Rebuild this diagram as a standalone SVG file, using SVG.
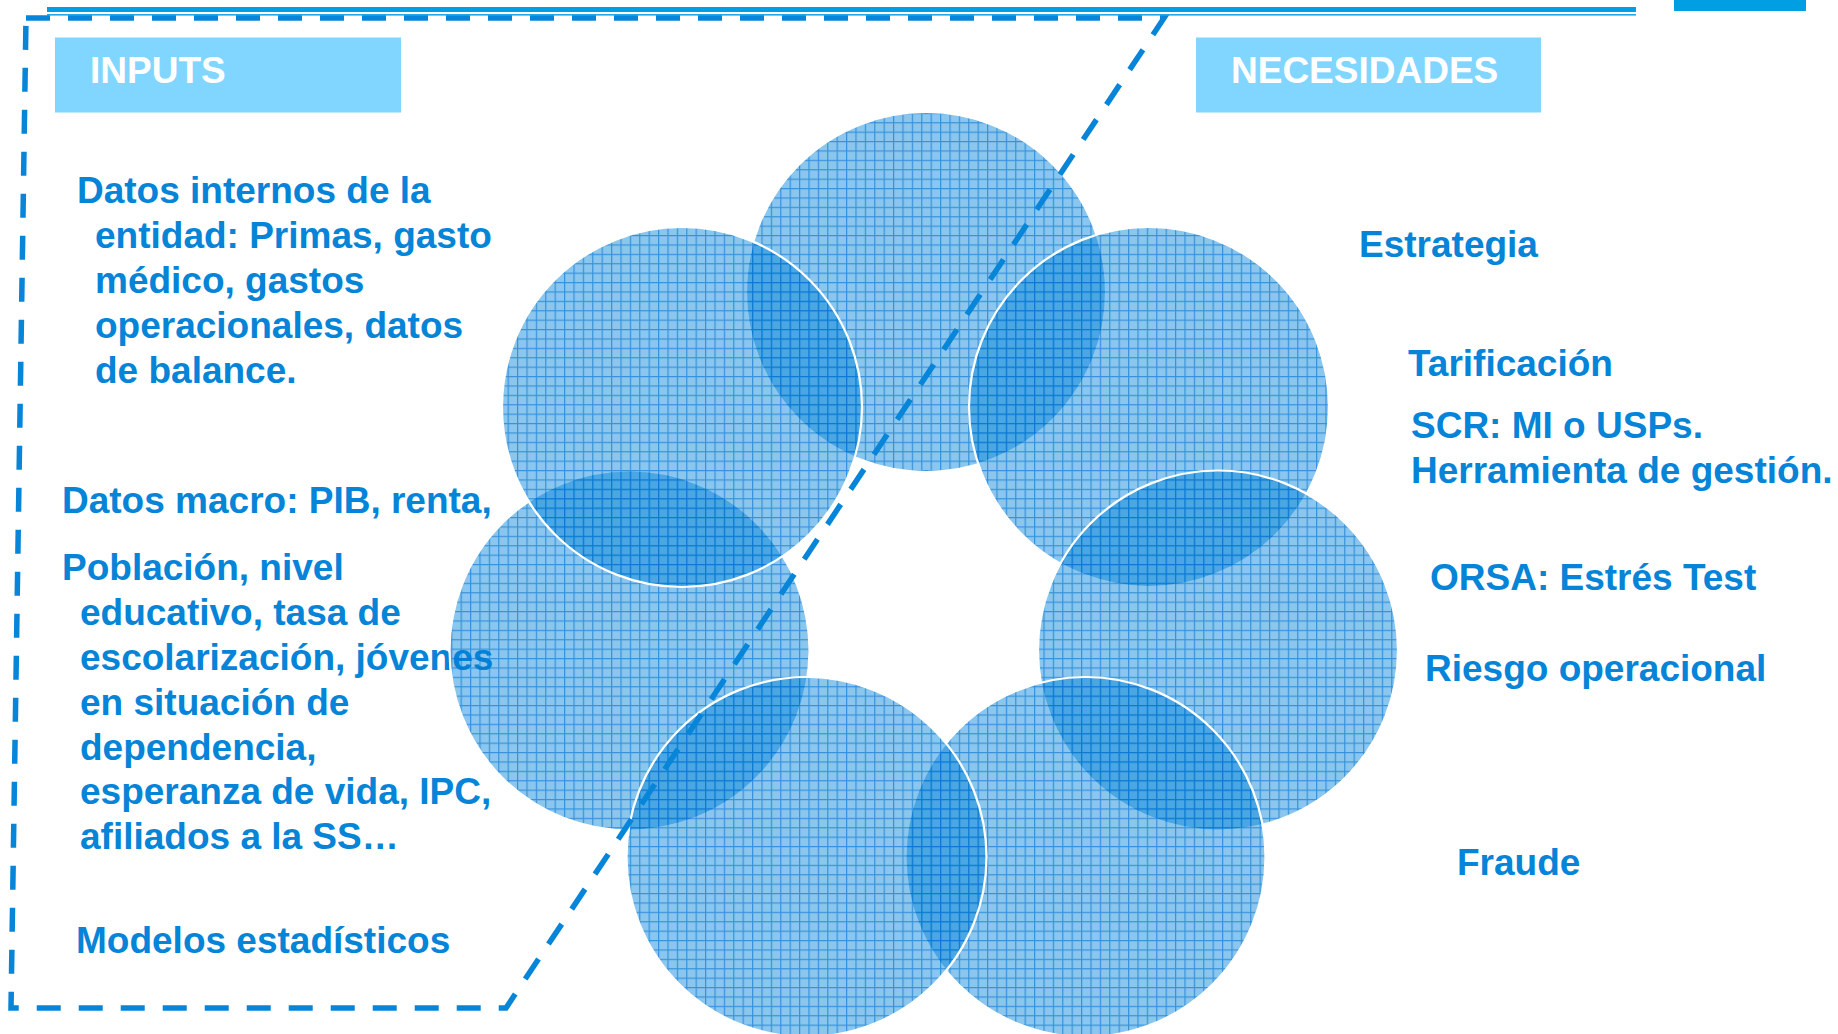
<svg xmlns="http://www.w3.org/2000/svg" width="1838" height="1034" viewBox="0 0 1838 1034">
<style>
.t{font-family:"Liberation Sans",Arial,sans-serif;font-weight:bold;font-size:37px;fill:#0584D8}
.h{font-family:"Liberation Sans",Arial,sans-serif;font-weight:bold;font-size:37px;fill:#FFFFFF}
.box{fill:#80D6FF}
.c{fill:url(#grid);stroke:#FFFFFF;stroke-width:2.2}
.dash{fill:none;stroke:#0785D8;stroke-width:5.5;stroke-dasharray:24 18}
</style>
<defs>
<pattern id="grid" patternUnits="userSpaceOnUse" width="9.4" height="9.4">
<rect width="9.4" height="9.4" fill="#0082D7" fill-opacity="0.46"/>
<path d="M0 0.6H9.4M0.6 0V9.4" stroke="#0070D0" stroke-opacity="0.6" stroke-width="1.2" fill="none"/>
</pattern>
</defs>
<rect width="1838" height="1034" fill="#FFFFFF"/>
<g id="top-bar">
<rect x="47" y="7" width="1589" height="5" fill="#009FE3"/>
<rect x="47" y="14" width="1589" height="1.6" fill="#22A8E8"/>
<rect x="1674" y="0" width="132" height="11" fill="#009FE3"/>
</g>
<g id="inputs-text">
<text class="t" x="77" y="203">Datos internos de la</text>
<text class="t" x="95" y="248">entidad: Primas, gasto</text>
<text class="t" x="95" y="293">médico, gastos</text>
<text class="t" x="95" y="338">operacionales, datos</text>
<text class="t" x="95" y="383">de balance.</text>
<text class="t" x="62" y="513">Datos macro: PIB, renta,</text>
<text class="t" x="62" y="579.5">Población, nivel</text>
<text class="t" x="80" y="624.5">educativo, tasa de</text>
<text class="t" x="80" y="669.5">escolarización, jóvenes</text>
<text class="t" x="80" y="714.5">en situación de</text>
<text class="t" x="80" y="759.5">dependencia,</text>
<text class="t" x="80" y="804">esperanza de vida, IPC,</text>
<text class="t" x="80" y="849">afiliados a la SS…</text>
<text class="t" x="76" y="953">Modelos estadísticos</text>
</g>
<g id="circles">
<g id="circle-top"><circle class="c" cx="926" cy="292" r="180"/></g>
<g id="circle-lower-left"><circle class="c" cx="629.5" cy="650.5" r="180"/></g>
<g id="circle-upper-left"><circle class="c" cx="682" cy="407" r="180"/></g>
<g id="circle-upper-right"><circle class="c" cx="1149" cy="407" r="180"/></g>
<g id="circle-lower-right"><circle class="c" cx="1218" cy="650.5" r="180"/></g>
<g id="circle-bottom-right"><circle class="c" cx="1085.5" cy="857" r="180"/></g>
<g id="circle-bottom-left"><circle class="c" cx="806.5" cy="857" r="180"/></g>
</g>
<g id="connectors">
<path class="dash" d="M26 18 L1164 18 L506 1008 L11 1008 Z"/>
</g>
<g id="inputs-label">
<rect class="box" x="55" y="37.5" width="346" height="75"/>
<text class="h" x="90" y="83">INPUTS</text>
</g>
<g id="necesidades-label">
<rect class="box" x="1196" y="37.5" width="345" height="75"/>
<text class="h" x="1231" y="83">NECESIDADES</text>
</g>
<g id="needs-text">
<text class="t" x="1359" y="257">Estrategia</text>
<text class="t" x="1408" y="376">Tarificación</text>
<text class="t" x="1411" y="438">SCR: MI o USPs.</text>
<text class="t" x="1411" y="483">Herramienta de gestión.</text>
<text class="t" x="1430" y="589.5">ORSA: Estrés Test</text>
<text class="t" x="1425" y="681">Riesgo operacional</text>
<text class="t" x="1457" y="875">Fraude</text>
</g>
</svg>
